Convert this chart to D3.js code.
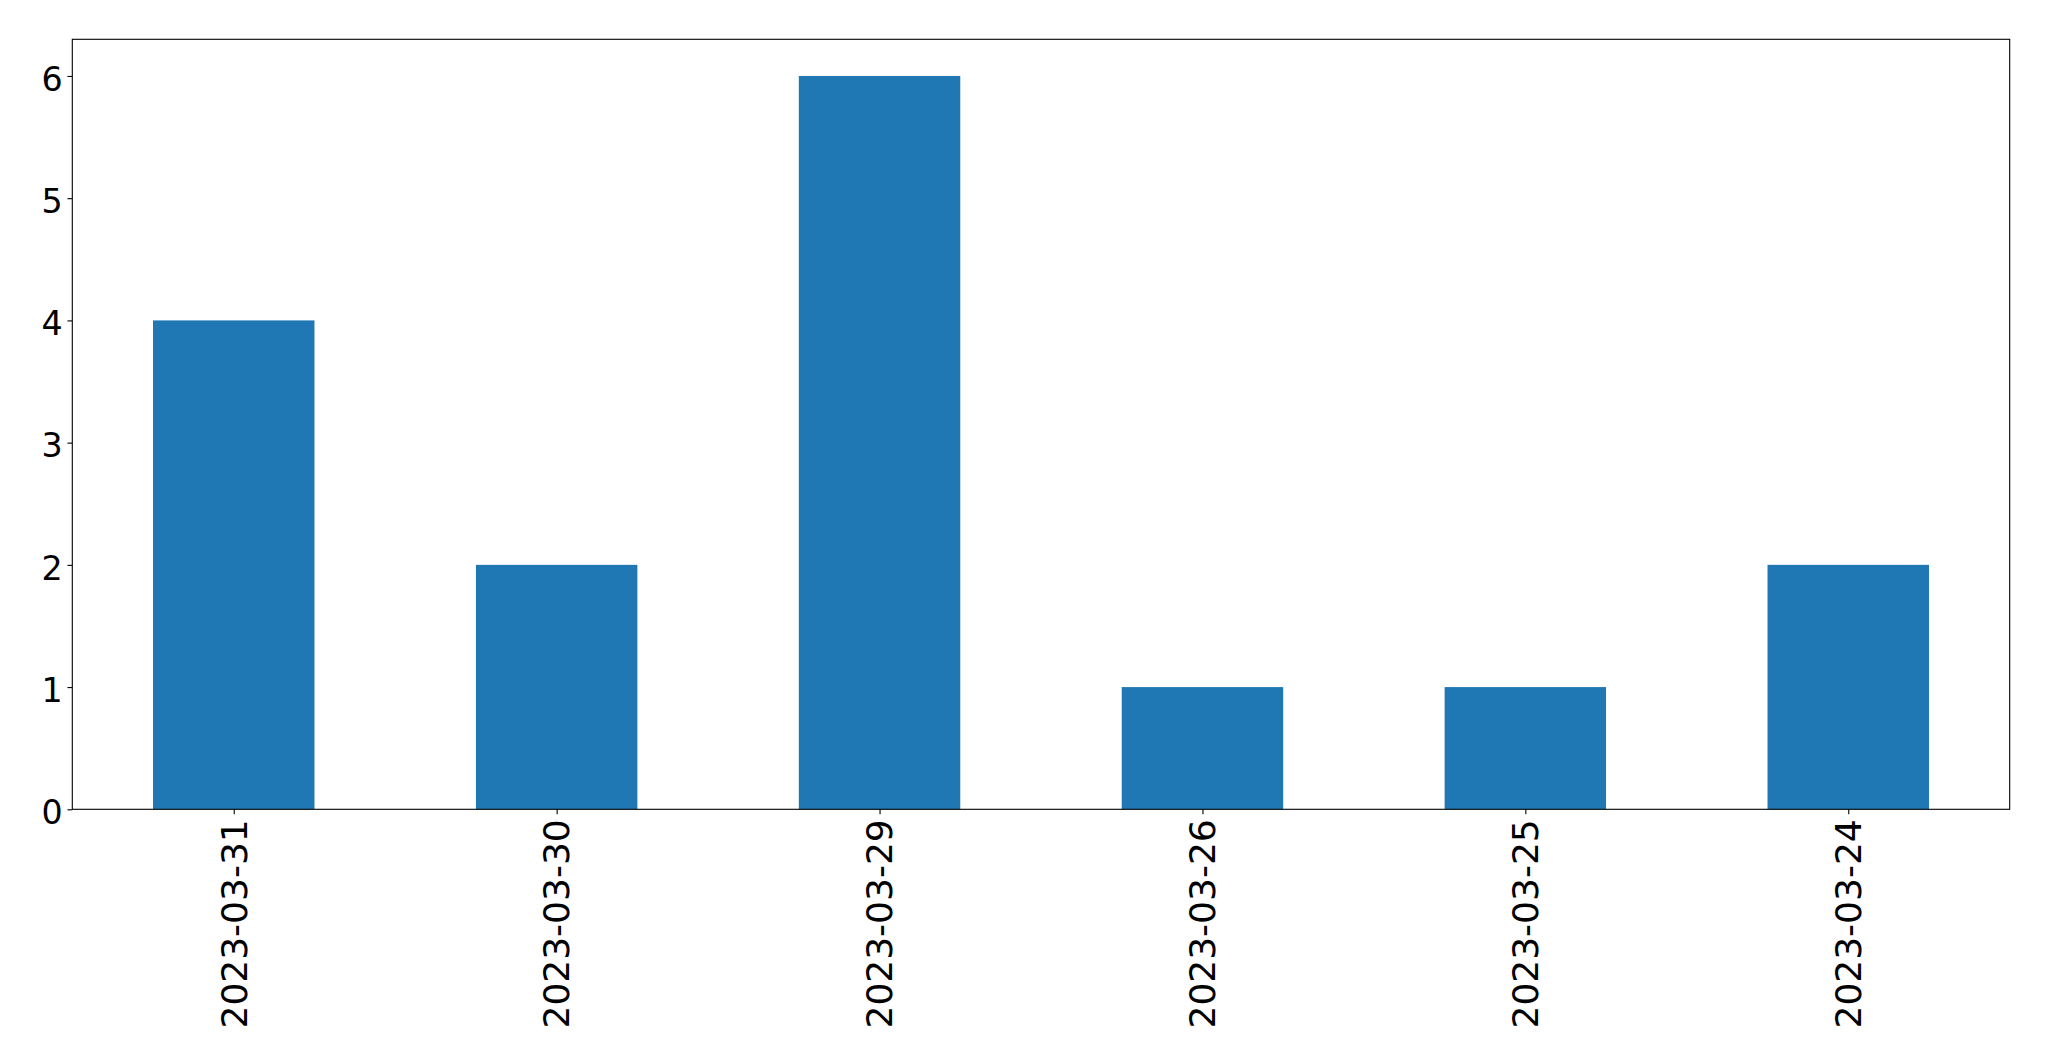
<!DOCTYPE html>
<html>
<head>
<meta charset="utf-8">
<script src="https://cdn.jsdelivr.net/npm/d3@7"></script>
<style>
  html, body { margin: 0; padding: 0; background: #fff; }
  svg { display: block; }
</style>
</head>
<body>
<svg id="chart" width="2049" height="1061"></svg>
<script>
const categories = ["2023-03-31", "2023-03-30", "2023-03-29", "2023-03-26", "2023-03-25", "2023-03-24"];
const values = [4, 2, 6, 1, 1, 2];
const yTicks = [0, 1, 2, 3, 4, 5, 6];

const W = 2049, H = 1061;
const margin = { left: 72.3, right: W - 2009.7, top: 39.3, bottom: H - 809.3 };
const yFont = 33.3, xFont = 36;
const tickLen = 4.86, pad = 4.86;

const svg = d3.select("#chart");
const iw = W - margin.left - margin.right;
const ih = H - margin.top - margin.bottom;

const g = svg.append("g").attr("transform", `translate(${margin.left},${margin.top})`);

// matplotlib-like: xlim -0.5..n-0.5, bar width 0.5
const x = d3.scaleLinear().domain([-0.5, categories.length - 0.5]).range([0, iw]);
const yMax = d3.max(values) * 1.05;
const y = d3.scaleLinear().domain([0, yMax]).range([ih, 0]);

g.selectAll("rect.bar")
  .data(values)
  .join("rect")
  .attr("class", "bar")
  .attr("x", (d, i) => x(i - 0.25))
  .attr("width", (d, i) => x(i + 0.25) - x(i - 0.25))
  .attr("y", d => y(d))
  .attr("height", d => y(0) - y(d))
  .attr("fill", "#1f77b4");

// y axis
const yAxis = d3.axisLeft(y).tickValues(yTicks).tickFormat(d3.format("d"))
  .tickSize(tickLen).tickPadding(pad);
const yg = g.append("g").call(yAxis);
yg.select(".domain").remove();
yg.selectAll(".tick line").attr("stroke", "#000").attr("stroke-width", 1.1);
yg.selectAll(".tick text")
  .attr("font-family", "DejaVu Sans")
  .attr("font-size", yFont)
  .attr("fill", "#000")
  .attr("dy", "0.43em");

// x axis
const xAxis = d3.axisBottom(x).tickValues(d3.range(categories.length))
  .tickFormat(i => categories[i]).tickSize(tickLen).tickPadding(pad);
const xg = g.append("g").attr("transform", `translate(0,${ih})`).call(xAxis);
xg.select(".domain").remove();
xg.selectAll(".tick line").attr("stroke", "#000").attr("stroke-width", 1.1);
xg.selectAll(".tick text")
  .attr("font-family", "DejaVu Sans")
  .attr("font-size", xFont)
  .attr("fill", "#000")
  .attr("transform", "rotate(-90)")
  .attr("text-anchor", "end")
  .attr("x", -10)
  .attr("y", 0)
  .attr("dy", "0.34em");

// frame
g.append("rect")
  .attr("x", 0).attr("y", 0).attr("width", iw).attr("height", ih)
  .attr("fill", "none").attr("stroke", "#000").attr("stroke-width", 1.1);
</script>
</body>
</html>
